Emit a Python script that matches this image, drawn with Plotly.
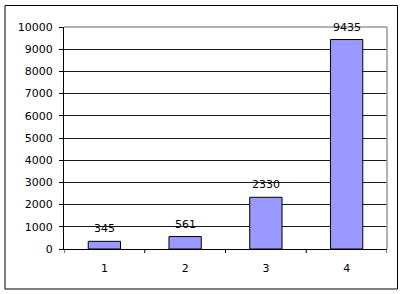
import plotly.graph_objects as go

categories = ["1", "2", "3", "4"]
values = [345, 561, 2330, 9435]
y_ticks = list(range(0, 10001, 1000))

W, H = 403, 294
L, R, T, B = 64, 16, 27, 45
pw, ph = W - L - R, H - T - B

fig = go.Figure()
fig.add_trace(go.Bar(
    x=[0, 1, 2, 3], y=values,
    width=0.4,
    marker=dict(color="#9999FF", line=dict(color="#000000", width=1)),
    cliponaxis=False,
))

for i, v in enumerate(values):
    fig.add_annotation(x=i, y=v, text=str(v), showarrow=False,
                       xanchor="center", yanchor="bottom", yshift=4,
                       font=dict(family="DejaVu Sans", size=11, color="#000000"))

fig.update_layout(
    width=W, height=H,
    margin=dict(l=L, r=R, t=T, b=B),
    paper_bgcolor="white", plot_bgcolor="white",
    showlegend=False,
    font=dict(family="DejaVu Sans", size=11, color="#000000"),
    xaxis=dict(
        range=[-0.5, 3.5],
        tickmode="array", tickvals=[0, 1, 2, 3], ticktext=categories,
        showgrid=False, zeroline=False,
        showline=True, linecolor="#000000", linewidth=1,
        ticks="", ticklabelstandoff=9,
        fixedrange=True,
    ),
    yaxis=dict(
        range=[0, 10000],
        tickmode="array", tickvals=y_ticks, ticktext=[str(v) for v in y_ticks],
        showgrid=True, gridcolor="#1a1a1a", gridwidth=1,
        zeroline=False,
        showline=True, linecolor="#000000", linewidth=1,
        ticks="outside", ticklen=4, tickcolor="#000000",
        ticklabelstandoff=4,
        fixedrange=True,
    ),
)

# category boundary ticks on x axis
for xb in [-0.5, 0.5, 1.5, 2.5, 3.5]:
    fig.add_shape(type="line", xref="x", yref="paper", x0=xb, x1=xb, y0=0, y1=-4 / ph,
                  line=dict(color="#000000", width=1), layer="above")

# plot area top/right gray border
fig.add_shape(type="line", xref="paper", yref="paper", x0=0, x1=1, y0=1, y1=1,
              line=dict(color="#999999", width=1.5), layer="above")
fig.add_shape(type="line", xref="paper", yref="paper", x0=1, x1=1, y0=0, y1=1,
              line=dict(color="#999999", width=1.5), layer="above")

# outer chart border
fig.add_shape(type="rect", xref="paper", yref="paper",
              x0=(5 - L) / pw, x1=(397.5 - L) / pw,
              y0=(H - B - 289) / ph, y1=(H - B - 5.5) / ph,
              line=dict(color="#000000", width=1), fillcolor="rgba(0,0,0,0)", layer="above")

fig.write_html("out.html")
